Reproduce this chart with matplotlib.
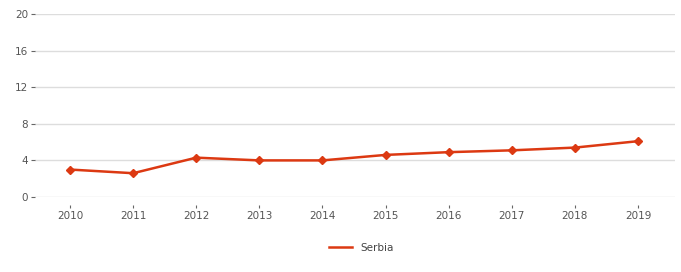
import matplotlib as mpl
mpl.use("Agg")
import matplotlib.pyplot as plt

years = ["2010", "2011", "2012", "2013", "2014", "2015", "2016", "2017", "2018", "2019"]
serbia = [3.0, 2.6, 4.3, 4.0, 4.0, 4.6, 4.9, 5.1, 5.4, 6.1]
yticks = [0, 4, 8, 12, 16, 20]

W, H = 681, 272
fig = plt.figure(figsize=(W / 100, H / 100), dpi=100)
ax = fig.add_axes([35 / W, 1 - 197 / H, 640 / W, 183 / H])

x = list(range(len(years)))
line, = ax.plot(x, serbia, color="#dc3912", linewidth=1.8, marker="D", markersize=4.5,
                zorder=3, label="Serbia")

ax.set_ylim(0, 20)
ax.set_xlim(-0.555, 9.586)
ax.set_yticks(yticks)
ax.set_yticklabels([str(v) for v in yticks])
ax.set_xticks(x)
ax.set_xticklabels(years)
ax.grid(axis="y", color="#dddddd", linewidth=1)
ax.set_axisbelow(True)
for s in ax.spines.values():
    s.set_visible(False)
# x ticks sit a bit below the zero line, just above the labels
ax.spines["bottom"].set_position(("outward", 6))
ax.tick_params(axis="y", length=3, width=0.8, color="#666666", labelcolor="#555555",
               labelsize=7.5, pad=2)
ax.tick_params(axis="x", length=2, width=0.8, color="#666666", labelcolor="#555555",
               labelsize=7.5, pad=2)

fig.legend(handles=[line], labels=["Serbia"], loc="center", bbox_to_anchor=(361 / W, 1 - 248 / H),
           frameon=False, fontsize=7.5, handlelength=2.2, labelcolor="#444444")
leg = fig.legends[0]
for h in leg.legend_handles:
    h.set_marker("")

fig.savefig("out.png", dpi=100)
